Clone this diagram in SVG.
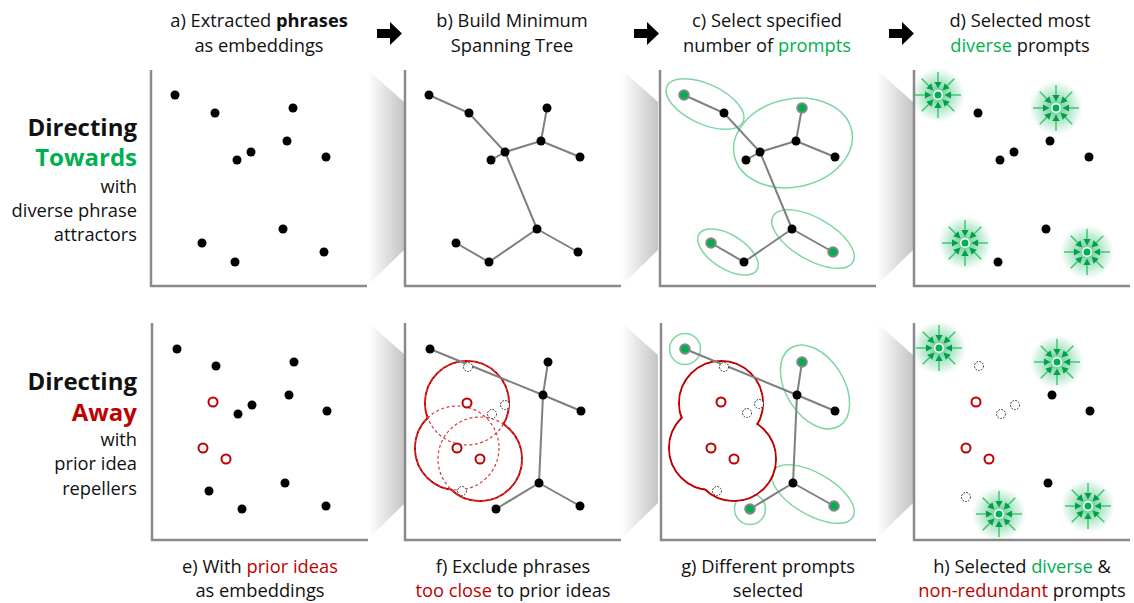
<svg xmlns="http://www.w3.org/2000/svg" xmlns:xlink="http://www.w3.org/1999/xlink" width="1134" height="603" viewBox="0 0 1134 603">
<style>
text{font-family:"Open Sans","Noto Sans","Liberation Sans",sans-serif;fill:#111;}
.t{font-size:18.3px;text-anchor:middle;}
.lab{font-size:18.3px;text-anchor:end;}
.big{font-size:24px;font-weight:bold;text-anchor:end;}
.g{fill:#00b050;}
.r{fill:#c00000;}
.ax{fill:none;stroke:#8a8a8a;stroke-width:2.5;}
.e{stroke:#7f7f7f;stroke-width:2;fill:none;}
.d{fill:#000;}
.sel{fill:#00b050;stroke:#888;stroke-width:2;}
.red{fill:#fff;stroke:#c00000;stroke-width:2;}
.dot{fill:#fff;stroke:#222;stroke-width:1;stroke-dasharray:1.6 1.4;}
.ell{fill:none;stroke:#7fd6a0;stroke-width:1.5;}
.ring{fill:none;stroke:#c00000;stroke-width:2;}
.cover{fill:#fff;}
.dash{fill:none;stroke:#d83a3a;stroke-width:1.2;stroke-dasharray:3 2.5;}
</style>
<defs>
<linearGradient id="sh" x1="0" y1="0" x2="1" y2="0">
<stop offset="0" stop-color="#fff"/>
<stop offset="1" stop-color="#c4c4c4"/>
</linearGradient>
<radialGradient id="glow">
<stop offset="0" stop-color="#00b050" stop-opacity="0.65"/>
<stop offset="0.55" stop-color="#00b050" stop-opacity="0.28"/>
<stop offset="1" stop-color="#00b050" stop-opacity="0"/>
</radialGradient>
<polygon id="shadowTop" points="0,0 36,32 36,180 0,215" fill="url(#sh)"/>
<path id="arr" d="M0,7 H13 V0 L25,11.5 L13,23 V16 H0 Z" fill="#000"/>
<g id="spoke">
<line x1="23" y1="0" x2="12" y2="0" stroke="#3cc36b" stroke-width="1.4"/>
<polygon points="6.5,0 13,-3.6 13,3.6" fill="#00a04a"/>
</g>
<g id="star">
<circle r="27" fill="url(#glow)"/>
<use xlink:href="#spoke"/>
<use xlink:href="#spoke" transform="rotate(45)"/>
<use xlink:href="#spoke" transform="rotate(90)"/>
<use xlink:href="#spoke" transform="rotate(135)"/>
<use xlink:href="#spoke" transform="rotate(180)"/>
<use xlink:href="#spoke" transform="rotate(225)"/>
<use xlink:href="#spoke" transform="rotate(270)"/>
<use xlink:href="#spoke" transform="rotate(315)"/>
<circle r="4.3" fill="#00b050" stroke="#fff" stroke-width="1.6"/>
</g>
</defs>
<rect width="1134" height="603" fill="#fff"/>

<!-- shadows -->
<g id="shadows">
<use xlink:href="#shadowTop" x="368" y="70"/>
<use xlink:href="#shadowTop" x="622" y="70"/>
<use xlink:href="#shadowTop" x="877" y="70"/>
<use xlink:href="#shadowTop" x="369" y="323"/>
<use xlink:href="#shadowTop" x="622" y="323"/>
<use xlink:href="#shadowTop" x="877" y="323"/>
</g>

<!-- axes -->
<g id="axes">
<path class="ax" d="M151,70 V286 H367"/>
<path class="ax" d="M405,70 V286 H621"/>
<path class="ax" d="M660,70 V286 H876"/>
<path class="ax" d="M914,70 V286 H1130"/>
<path class="ax" d="M152,323 V540 H368"/>
<path class="ax" d="M405,323 V540 H621"/>
<path class="ax" d="M661,323 V540 H876"/>
<path class="ax" d="M914,323 V540 H1130"/>
</g>

<!-- titles -->
<g id="titles">
<text class="t" x="259" y="27">a) Extracted <tspan font-weight="bold">phrases</tspan></text>
<text class="t" x="259" y="52">as embeddings</text>
<text class="t" x="512" y="27">b) Build Minimum</text>
<text class="t" x="512" y="52">Spanning Tree</text>
<text class="t" x="767" y="27">c) Select specified</text>
<text class="t" x="767" y="52">number of <tspan class="g">prompts</tspan></text>
<text class="t" x="1020" y="27">d) Selected most</text>
<text class="t" x="1020" y="52"><tspan class="g">diverse</tspan> prompts</text>
<use xlink:href="#arr" x="377" y="22"/>
<use xlink:href="#arr" x="634" y="22"/>
<use xlink:href="#arr" x="889" y="22"/>
<text class="t" x="260" y="573">e) With <tspan class="r">prior ideas</tspan></text>
<text class="t" x="260" y="597">as embeddings</text>
<text class="t" x="513" y="573">f) Exclude phrases</text>
<text class="t" x="513" y="597"><tspan class="r">too close</tspan> to prior ideas</text>
<text class="t" x="768" y="573">g) Different prompts</text>
<text class="t" x="768" y="597">selected</text>
<text class="t" x="1022" y="573">h) Selected <tspan class="g">diverse</tspan> &amp;</text>
<text class="t" x="1022" y="597"><tspan class="r">non-redundant</tspan> prompts</text>
</g>

<!-- row labels -->
<g id="rowTowards">
<text class="big" x="137" y="136">Directing</text>
<text class="big g" x="137" y="166">Towards</text>
<text class="lab" x="137" y="193">with</text>
<text class="lab" x="137" y="217">diverse phrase</text>
<text class="lab" x="137" y="241">attractors</text>
</g>
<g id="rowAway">
<text class="big" x="137" y="390">Directing</text>
<text class="big r" x="137" y="421">Away</text>
<text class="lab" x="137" y="446">with</text>
<text class="lab" x="137" y="470">prior idea</text>
<text class="lab" x="137" y="495">repellers</text>
</g>

<!-- panel c ellipses -->
<g id="ellipsesC">
<ellipse class="ell" cx="705" cy="104" rx="42" ry="20" transform="rotate(25 705 104)"/>
<ellipse class="ell" cx="793" cy="143" rx="60" ry="44" transform="rotate(-12 793 143)"/>
<ellipse class="ell" cx="728" cy="252" rx="34" ry="17" transform="rotate(32 728 252)"/>
<ellipse class="ell" cx="813" cy="239" rx="46" ry="21" transform="rotate(30 813 239)"/>
</g>
<g id="ellipsesG">
<circle class="ell" cx="685" cy="349" r="15.5"/>
<ellipse class="ell" cx="815" cy="387" rx="46" ry="29" transform="rotate(58 815 387)"/>
<circle class="ell" cx="750" cy="509" r="15.5"/>
<ellipse class="ell" cx="813" cy="494" rx="46" ry="21" transform="rotate(30 813 494)"/>
</g>

<!-- repeller regions -->
<g id="repellerF">
<circle class="ring" cx="467" cy="403" r="42"/>
<circle class="ring" cx="457" cy="448" r="42"/>
<circle class="ring" cx="480" cy="459" r="42"/>
<circle class="cover" cx="467" cy="403" r="41"/>
<circle class="cover" cx="457" cy="448" r="41"/>
<circle class="cover" cx="480" cy="459" r="41"/>
<circle class="dash" cx="467" cy="403" r="42"/>
<circle class="dash" cx="457" cy="448" r="42"/>
<circle class="dash" cx="480" cy="459" r="42"/>
</g>
<g id="repellerG">
<circle class="ring" cx="721" cy="403" r="42"/>
<circle class="ring" cx="711" cy="448" r="42"/>
<circle class="ring" cx="734" cy="459" r="42"/>
<circle class="cover" cx="721" cy="403" r="41"/>
<circle class="cover" cx="711" cy="448" r="41"/>
<circle class="cover" cx="734" cy="459" r="41"/>
</g>

<!-- connectors -->
<g id="connectors" class="e">
<path d="M429,95 L469,113 L505,152 L491,160 M505,152 L541,141 L547,108 M541,141 L580,157 M505,152 L537,229 L489,262 L456,243 M537,229 L578,252"/>
<path d="M684,95 L724,113 L760,152 L746,160 M760,152 L796,141 L802,108 M796,141 L835,157 M760,152 L792,229 L744,262 L711,243 M792,229 L833,252"/>
<path d="M430,349 L543,395 L581,411 M548,362 L543,395 L539,483 L496,509 M539,483 L580,506"/>
<path d="M685,349 L797,395 L835,411 M802,362 L797,395 L793,483 L750,509 M793,483 L834,506"/>
</g>

<!-- panel a -->
<g id="panelA" class="d">
<circle cx="175" cy="95" r="4.5"/><circle cx="215" cy="113" r="4.5"/><circle cx="293" cy="108" r="4.5"/>
<circle cx="287" cy="141" r="4.5"/><circle cx="251" cy="152" r="4.5"/><circle cx="237" cy="160" r="4.5"/>
<circle cx="326" cy="157" r="4.5"/><circle cx="283" cy="229" r="4.5"/><circle cx="202" cy="243" r="4.5"/>
<circle cx="235" cy="262" r="4.5"/><circle cx="324" cy="252" r="4.5"/>
</g>
<g id="panelB" class="d">
<circle cx="429" cy="95" r="4.5"/><circle cx="469" cy="113" r="4.5"/><circle cx="547" cy="108" r="4.5"/>
<circle cx="541" cy="141" r="4.5"/><circle cx="505" cy="152" r="4.5"/><circle cx="491" cy="160" r="4.5"/>
<circle cx="580" cy="157" r="4.5"/><circle cx="537" cy="229" r="4.5"/><circle cx="456" cy="243" r="4.5"/>
<circle cx="489" cy="262" r="4.5"/><circle cx="578" cy="252" r="4.5"/>
</g>
<g id="panelC">
<g class="d">
<circle cx="724" cy="113" r="4.5"/><circle cx="796" cy="141" r="4.5"/><circle cx="760" cy="152" r="4.5"/>
<circle cx="746" cy="160" r="4.5"/><circle cx="835" cy="157" r="4.5"/><circle cx="792" cy="229" r="4.5"/>
<circle cx="744" cy="262" r="4.5"/>
</g>
<circle class="sel" cx="684" cy="95" r="4.8"/><circle class="sel" cx="802" cy="108" r="4.8"/>
<circle class="sel" cx="711" cy="243" r="4.8"/><circle class="sel" cx="833" cy="252" r="4.8"/>
</g>
<g id="panelD">
<g class="d">
<circle cx="978" cy="113" r="4.5"/><circle cx="1050" cy="141" r="4.5"/><circle cx="1014" cy="152" r="4.5"/>
<circle cx="1000" cy="160" r="4.5"/><circle cx="1089" cy="157" r="4.5"/><circle cx="1046" cy="229" r="4.5"/>
<circle cx="998" cy="262" r="4.5"/>
</g>
<use xlink:href="#star" x="938" y="95"/>
<use xlink:href="#star" x="1056" y="108"/>
<use xlink:href="#star" x="965" y="243"/>
<use xlink:href="#star" x="1087" y="252"/>
</g>

<!-- panel e -->
<g id="panelE">
<g class="d">
<circle cx="177" cy="349" r="4.5"/><circle cx="216" cy="366" r="4.5"/><circle cx="294" cy="362" r="4.5"/>
<circle cx="289" cy="395" r="4.5"/><circle cx="252" cy="405" r="4.5"/><circle cx="238" cy="414" r="4.5"/>
<circle cx="327" cy="411" r="4.5"/><circle cx="285" cy="483" r="4.5"/><circle cx="209" cy="491" r="4.5"/>
<circle cx="242" cy="509" r="4.5"/><circle cx="326" cy="506" r="4.5"/>
</g>
<circle class="red" cx="213" cy="402" r="4.5"/><circle class="red" cx="203" cy="448" r="4.5"/><circle class="red" cx="226" cy="459" r="4.5"/>
</g>
<g id="panelF">
<g class="d">
<circle cx="430" cy="349" r="4.5"/><circle cx="548" cy="362" r="4.5"/><circle cx="543" cy="395" r="4.5"/>
<circle cx="581" cy="411" r="4.5"/><circle cx="539" cy="483" r="4.5"/><circle cx="496" cy="509" r="4.5"/>
<circle cx="580" cy="506" r="4.5"/>
</g>
<circle class="dot" cx="468" cy="367" r="4.5"/><circle class="dot" cx="505" cy="405" r="4.5"/>
<circle class="dot" cx="492" cy="414" r="4.5"/><circle class="dot" cx="462" cy="491" r="4.5"/>
<circle class="red" cx="467" cy="403" r="4.5"/><circle class="red" cx="457" cy="448" r="4.5"/><circle class="red" cx="480" cy="459" r="4.5"/>
</g>
<g id="panelG">
<g class="d">
<circle cx="797" cy="395" r="4.5"/><circle cx="835" cy="411" r="4.5"/><circle cx="793" cy="483" r="4.5"/>
</g>
<circle class="sel" cx="685" cy="349" r="4.8"/><circle class="sel" cx="802" cy="362" r="4.8"/>
<circle class="sel" cx="750" cy="509" r="4.8"/><circle class="sel" cx="834" cy="506" r="4.8"/>
<circle class="dot" cx="724" cy="367" r="4.5"/><circle class="dot" cx="759" cy="404" r="4.5"/>
<circle class="dot" cx="747" cy="413" r="4.5"/><circle class="dot" cx="717" cy="491" r="4.5"/>
<circle class="red" cx="721" cy="402" r="4.5"/><circle class="red" cx="711" cy="448" r="4.5"/><circle class="red" cx="734" cy="459" r="4.5"/>
</g>
<g id="panelH">
<g class="d">
<circle cx="1052" cy="395" r="4.5"/><circle cx="1090" cy="411" r="4.5"/><circle cx="1048" cy="483" r="4.5"/>
</g>
<circle class="dot" cx="979" cy="366" r="4.5"/><circle class="dot" cx="1015" cy="405" r="4.5"/>
<circle class="dot" cx="1001" cy="414" r="4.5"/><circle class="dot" cx="966" cy="497" r="4.5"/>
<circle class="red" cx="976" cy="402" r="4.5"/><circle class="red" cx="966" cy="448" r="4.5"/><circle class="red" cx="989" cy="459" r="4.5"/>
<use xlink:href="#star" x="939" y="348"/>
<use xlink:href="#star" x="1057" y="362"/>
<use xlink:href="#star" x="999" y="514"/>
<use xlink:href="#star" x="1088" y="506"/>
</g>
</svg>
